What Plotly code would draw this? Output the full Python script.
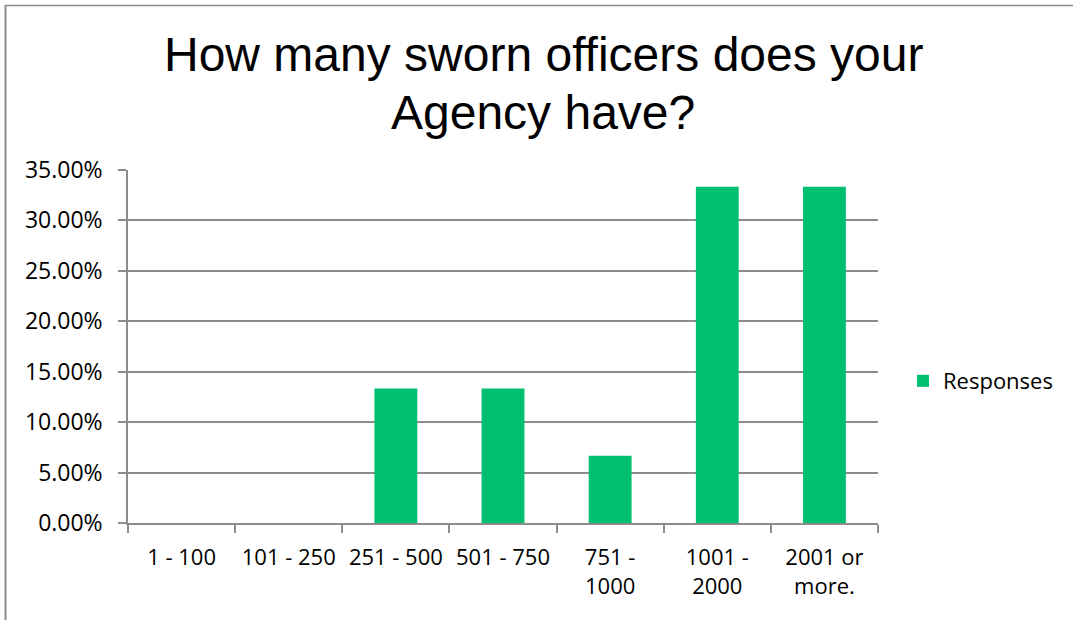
import plotly.graph_objects as go

# Survey responses: share of agencies by number of sworn officers
categories = ["1 - 100", "101 - 250", "251 - 500", "501 - 750",
              "751 -<br>1000", "1001 -<br>2000", "2001 or<br>more."]
responses = [0.0, 0.0, 0.1333, 0.1333, 0.0667, 0.3333, 0.3333]
y_ticks = [0, 0.05, 0.10, 0.15, 0.20, 0.25, 0.30, 0.35]
title_lines = ["How many sworn officers does your", "Agency have?"]

W, H = 1073, 620
L, R, T, B = 128, 195, 170, 97
pw, ph = W - L - R, H - T - B

GREEN = "#00BF6F"
GRAY = "#8C8C8C"
FONT = "Open Sans"


def px_x(x):
    return (x - L) / pw


def px_y(y):
    return (H - B - y) / ph


fig = go.Figure(
    go.Bar(
        x=categories,
        y=responses,
        name="Responses",
        marker=dict(color=GREEN, line=dict(width=0)),
        showlegend=True,
    )
)

# two-line chart title, each line placed on its own centre
title_y = [55, 112]
annotations = [
    dict(text=line, xref="paper", yref="paper",
         x=px_x(543), y=px_y(yc), xanchor="center", yanchor="middle",
         showarrow=False,
         font=dict(family="Liberation Sans, Arial", size=48, color="#000000"))
    for line, yc in zip(title_lines, title_y)
]

fig.update_layout(
    width=W,
    height=H,
    margin=dict(l=L, r=R, t=T, b=B, pad=0, autoexpand=False),
    paper_bgcolor="white",
    plot_bgcolor="white",
    bargap=0.6,
    font=dict(family=FONT, size=22, color="#000000"),
    annotations=annotations,
    legend=dict(
        x=903 / W,
        xref="container",
        xanchor="left",
        y=px_y(381),
        yanchor="middle",
        font=dict(family=FONT, size=22, color="#000000"),
        bgcolor="rgba(0,0,0,0)",
    ),
    shapes=[
        # chart frame: top and left edges
        dict(type="line", xref="paper", yref="paper",
             x0=px_x(5), x1=px_x(1073), y0=px_y(5.5), y1=px_y(5.5),
             line=dict(color=GRAY, width=1.5)),
        dict(type="line", xref="paper", yref="paper",
             x0=px_x(5.5), x1=px_x(5.5), y0=px_y(5), y1=px_y(620),
             line=dict(color=GRAY, width=2)),
    ],
)

fig.update_xaxes(
    type="category",
    automargin=False,
    tickangle=0,
    showline=True,
    linecolor=GRAY,
    linewidth=1.5,
    ticks="outside",
    tickson="boundaries",
    ticklen=8,
    tickcolor=GRAY,
    tickwidth=1.5,
    showgrid=False,
    tickfont=dict(family=FONT, size=22, color="#000000"),
    ticklabelstandoff=14,
)

fig.update_yaxes(
    automargin=False,
    range=[0, 0.35],
    tickvals=y_ticks,
    tickformat=".2%",
    showline=True,
    linecolor=GRAY,
    linewidth=1.5,
    ticks="outside",
    ticklen=8,
    tickcolor=GRAY,
    tickwidth=1.5,
    showgrid=True,
    gridcolor=GRAY,
    gridwidth=1.5,
    zeroline=False,
    tickfont=dict(family=FONT, size=23, color="#000000"),
    ticklabelstandoff=11,
)

fig.write_html("out.html")
